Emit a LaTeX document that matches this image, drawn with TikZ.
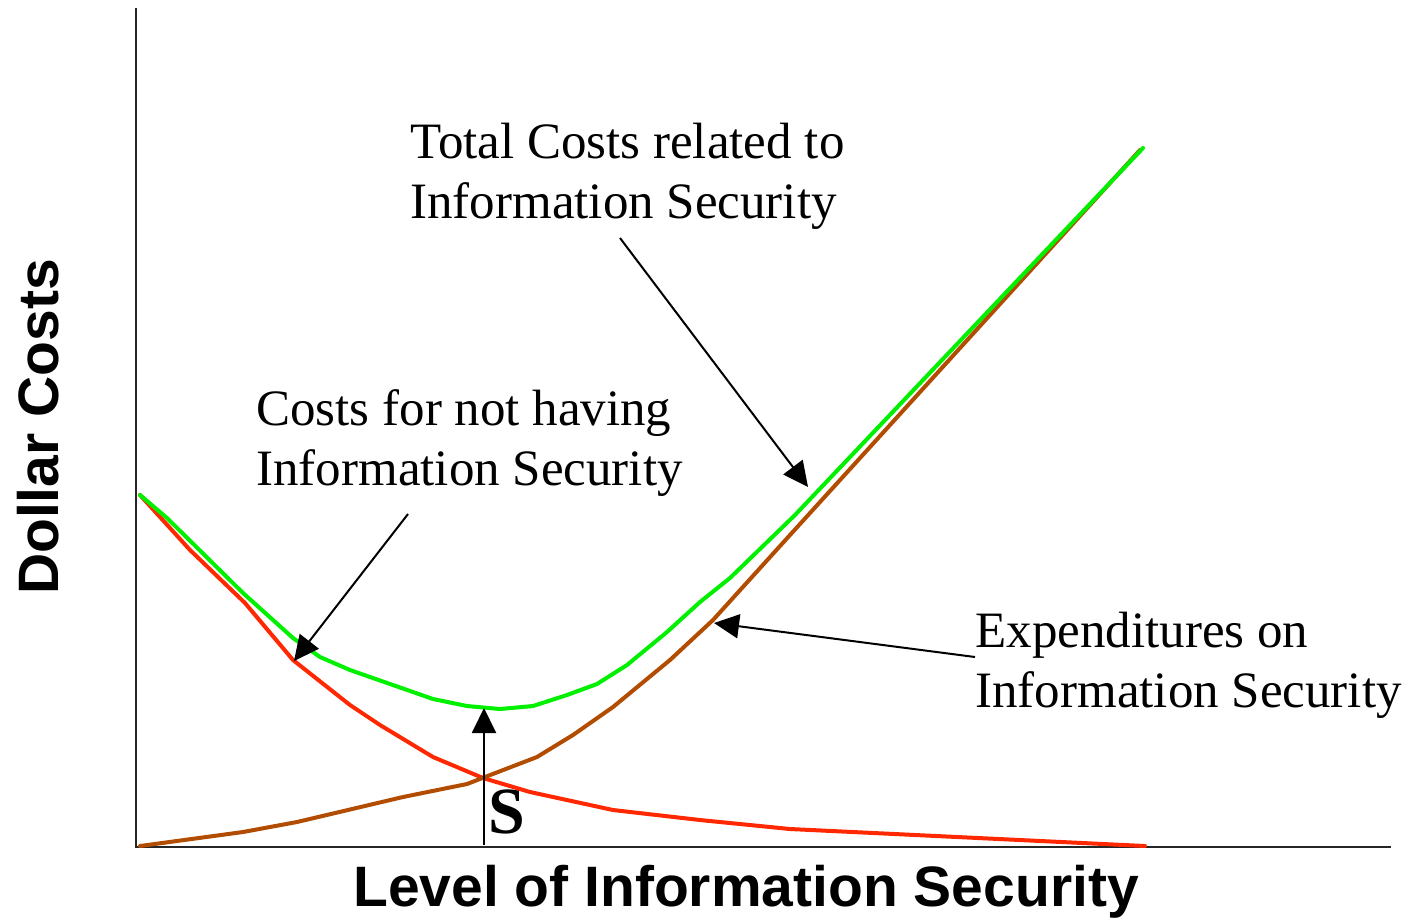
\documentclass[tikz,border=0pt]{standalone}
\usepackage{fontspec}
\setmainfont{Liberation Serif}
\newfontfamily\axisfont{Liberation Sans}
\usetikzlibrary{arrows.meta}
\definecolor{totalgreen}{RGB}{0,240,0}
\definecolor{riskred}{RGB}{255,40,0}
\definecolor{spendbrown}{RGB}{178,76,0}
\tikzset{
  curve/.style={line width=2pt, line join=round, line cap=round},
  axisline/.style={line width=1pt, draw=black!85},
  pointer/.style={line width=1pt, -{Triangle[length=12.5pt,width=12pt]}},
  label/.style={font=\fontsize{25.5pt}{30pt}\selectfont, align=left, inner sep=0pt, anchor=base west},
  axistitle/.style={font=\axisfont\bfseries\fontsize{28.5pt}{32pt}\selectfont, inner sep=0pt},
}
\begin{document}
\begin{tikzpicture}[x=0.5pt, y=-0.5pt]
\useasboundingbox (0,0) rectangle (1406,922);

% axes
\coordinate (ytop) at (136,8);
\coordinate (orig) at (136,847);
\coordinate (xend) at (1391,847);
\draw[axisline] (ytop) -- (orig) -- (xend);

% costs for not having information security
\draw[curve, riskred] (140,495) -- (190,550) -- (245,603) -- (293,660) -- (350,705)
  -- (380,725) -- (433,757) -- (483,778) -- (530,792) -- (613,810) -- (700,820)
  -- (790,829) -- (1145,846);

% expenditures on information security
\draw[curve, spendbrown] (140,846) -- (243,832) -- (297,822) -- (403,797) -- (467,784)
  -- (485,777) -- (537,757) -- (573,735) -- (613,707) -- (670,660) -- (713,620)
  -- (790,535) -- (1140,150);

% total costs
\draw[curve, totalgreen] (140,495) -- (167,518) -- (243,593) -- (293,638) -- (320,657)
  -- (350,670) -- (433,699) -- (467,706) -- (500,709) -- (533,706) -- (567,695)
  -- (597,684) -- (627,665) -- (667,632) -- (700,602) -- (730,578) -- (795,515)
  -- (1143,148);

% labels (anchored at the baseline of their last line)
\node[label] (total) at (410,218) {Total Costs related to\\Information Security};
\node[label] (notsec) at (256,485) {Costs for not having\\Information Security};
\node[label] (spend) at (975,707) {Expenditures on\\Information Security};
\node[font=\bfseries\fontsize{33pt}{36pt}\selectfont, inner sep=0pt] (s) at (507,812) {S};

% pointers
\coordinate (totaltail) at (620,238);
\coordinate (totaltip) at (808,487);
\coordinate (notsectail) at (408,514);
\coordinate (notsectip) at (294,661);
\coordinate (spendtail) at (975,657);
\coordinate (spendtip) at (714,623);
\coordinate (sbase) at (484,845);
\coordinate (stip) at (484,708);
\draw[pointer] (totaltail) -- (totaltip);
\draw[pointer] (notsectail) -- (notsectip);
\draw[pointer] (spendtail) -- (spendtip);
\draw[pointer] (sbase) -- (stip);

% axis titles
\node[axistitle] (xtitle) at (746,892) {Level of Information Security};
\node[axistitle, rotate=90] (ytitle) at (38,427) {Dollar Costs};
\end{tikzpicture}
\end{document}
